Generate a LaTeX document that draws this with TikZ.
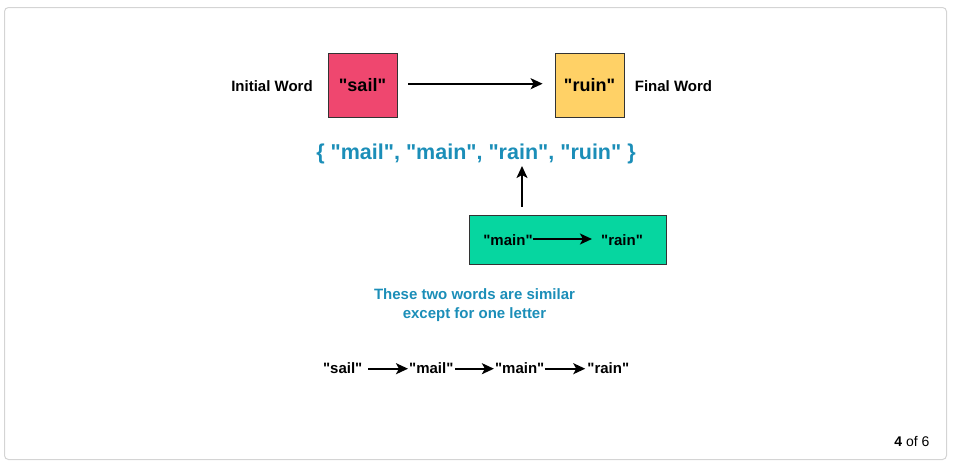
\documentclass[tikz,border=0pt]{standalone}
\usepackage{fontspec}
\setmainfont{Liberation Sans}[Ligatures=TeXOff]
\usetikzlibrary{arrows.meta}
\newcommand{\dq}{\char34\relax}
\definecolor{pinkc}{HTML}{EF476F}
\definecolor{yellowc}{HTML}{FFD166}
\definecolor{greenc}{HTML}{06D6A0}
\definecolor{bluec}{HTML}{1B8EB8}
\definecolor{framec}{HTML}{D4D4D4}
\tikzset{
  fs/.style={font=\fontsize{#1}{19}\selectfont\bfseries},
  lbl/.style={inner sep=0pt, anchor=base, fs=15},
  wordbox/.style={draw=black!80, line width=0.8pt, minimum width=69pt, minimum height=64pt, inner sep=0pt, fs=18},
  arr/.style={line width=1.8pt, -{Stealth[length=12pt,width=11pt,inset=3pt]}},
}
\begin{document}
\begin{tikzpicture}[x=1pt,y=-1pt]
\useasboundingbox (0,0) rectangle (953,466);
\draw[framec, line width=1pt, rounded corners=4pt] (4.5,7.5) rectangle (946.5,459.5);

% top row
\node[lbl] (init) at (272,91) {Initial Word};
\node[wordbox, fill=pinkc] (sail) at (362.5,85) {\dq sail\dq};
\node[wordbox, fill=yellowc] (ruin) at (589.5,85) {\dq ruin\dq};
\node[lbl] (final) at (673.5,91) {Final Word};
\draw[arr, shorten <=11pt, shorten >=12pt] (sail.east |- 0,83.7) -- (ruin.west |- 0,83.7);

% set
\node[inner sep=0pt, anchor=base, fs=21.5, text=bluec] (set) at (476,159.5) {\{ \dq mail\dq, \dq main\dq, \dq rain\dq, \dq ruin\dq\ \}};

% green box
\node[draw=black!80, line width=0.8pt, fill=greenc, minimum width=197pt, minimum height=49pt, inner sep=0pt] (gbox) at (567.5,239.5) {};
\node[lbl] (gmain) at (508,245) {\dq main\dq};
\node[lbl] (grain) at (622,245) {\dq rain\dq};
\draw[arr, shorten >=9pt] (gmain.east |- 0,239) -- (grain.west |- 0,239);
\coordinate (tip) at (522,166);
\draw[arr, shorten <=8pt] (gbox.north -| tip) -- (tip);

% explanation
\node[inner sep=0pt, fs=15, text=bluec, align=center, anchor=base] (expl) at (474.5,318) {These two words are similar\\except for one letter};

% chain
\node[lbl] (c1) at (342.7,373.3) {\dq sail\dq};
\node[lbl] (c2) at (431.3,373.3) {\dq mail\dq};
\node[lbl] (c3) at (519.7,373.3) {\dq main\dq};
\node[lbl] (c4) at (608.3,373.3) {\dq rain\dq};
\draw[arr, shorten <=5.5pt, shorten >=1pt] (c1.east |- 0,368.7) -- (c2.west |- 0,368.7);
\draw[arr, shorten <=1.5pt, shorten >=1pt] (c2.east |- 0,368.7) -- (c3.west |- 0,368.7);
\draw[arr, shorten <=0pt, shorten >=2pt] (c3.east |- 0,368.7) -- (c4.west |- 0,368.7);

% page counter
\node[inner sep=0pt, anchor=base, font=\fontsize{14}{16}\selectfont] (page) at (912,446) {\textbf{4} of 6};
\end{tikzpicture}
\end{document}
